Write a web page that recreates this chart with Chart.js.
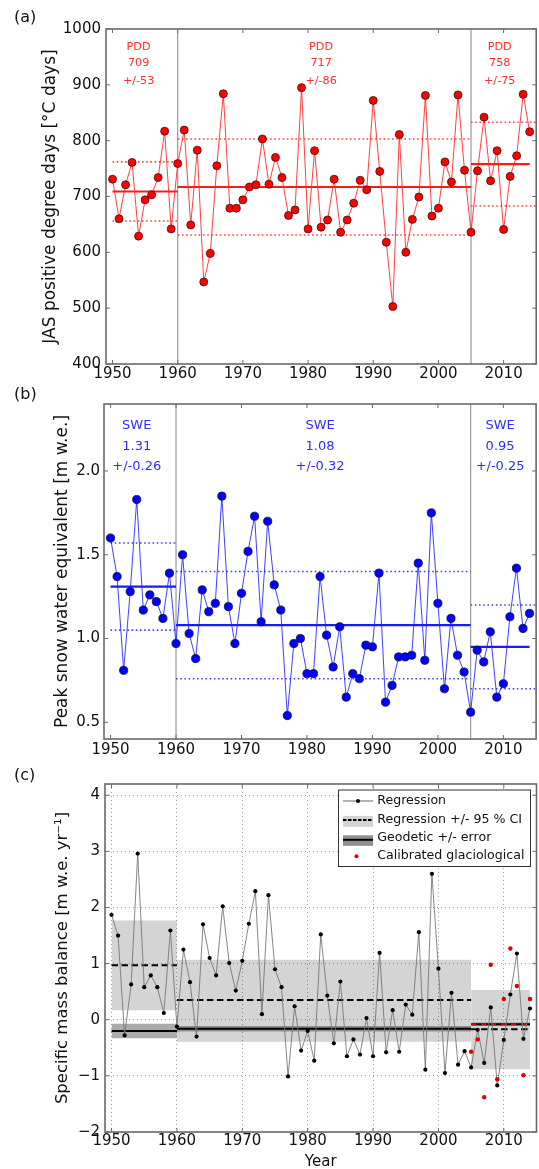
<!DOCTYPE html>
<html><head><meta charset="utf-8">
<script src="https://cdn.jsdelivr.net/npm/chart.js@4.4.0/dist/chart.umd.min.js"></script>
<style>
html,body{margin:0;padding:0;overflow:hidden;background:#fff;width:539px;height:1169px;position:relative;}
canvas{position:absolute;left:0;}
.plab{position:absolute;font-family:"DejaVu Sans",sans-serif;font-size:16px;line-height:16px;color:#111;}
</style></head><body>
<canvas id="ca" width="541" height="390" style="top:0px"></canvas>
<canvas id="cb" width="541" height="380" style="top:390px"></canvas>
<canvas id="cc" width="541" height="410" style="top:770px"></canvas>
<div class="plab" style="left:14px;top:9px">(a)</div>
<div class="plab" style="left:14px;top:386px">(b)</div>
<div class="plab" style="left:14px;top:767px">(c)</div>
<script>
// ---------------- data ----------------
const years = [1950,1951,1952,1953,1954,1955,1956,1957,1958,1959,
  1960,1961,1962,1963,1964,1965,1966,1967,1968,1969,
  1970,1971,1972,1973,1974,1975,1976,1977,1978,1979,
  1980,1981,1982,1983,1984,1985,1986,1987,1988,1989,
  1990,1991,1992,1993,1994,1995,1996,1997,1998,1999,
  2000,2001,2002,2003,2004,2005,2006,2007,2008,2009,
  2010,2011,2012,2013,2014];
const pdd = [731,660,721,761,629,694,703,734,817,642,
  759,819,649,783,547,598,755,884,679,679,
  694,717,721,803,722,770,734,666,676,895,
  642,782,645,658,731,636,658,688,729,712,
  872,745,618,503,811,600,659,699,881,665,
  679,762,726,882,747,636,746,842,728,782,
  641,736,773,883,816];
const swe = [1.60,1.37,0.81,1.28,1.83,1.17,1.26,1.22,1.12,1.39,
  0.97,1.50,1.03,0.88,1.29,1.16,1.21,1.85,1.19,0.97,
  1.27,1.52,1.73,1.10,1.70,1.32,1.17,0.54,0.97,1.00,
  0.79,0.79,1.37,1.02,0.83,1.07,0.65,0.79,0.76,0.96,
  0.95,1.39,0.62,0.72,0.89,0.89,0.90,1.45,0.87,1.75,
  1.21,0.70,1.12,0.90,0.80,0.56,0.93,0.86,1.04,0.65,
  0.73,1.13,1.42,1.06,1.15];
const smb = [1.87,1.50,-0.28,0.63,2.96,0.58,0.79,0.58,0.12,1.59,
  -0.12,1.25,0.67,-0.30,1.70,1.10,0.79,2.02,1.01,0.52,
  1.05,1.71,2.29,0.10,2.22,0.90,0.58,-1.01,0.24,-0.55,
  -0.20,-0.73,1.52,0.43,-0.42,0.68,-0.65,-0.35,-0.62,0.03,
  -0.65,1.19,-0.58,0.17,-0.57,0.27,0.09,1.56,-0.89,2.60,
  0.91,-0.95,0.48,-0.80,-0.56,-0.85,-0.18,-0.77,0.22,-1.17,
  -0.36,0.45,1.18,-0.34,0.20];
const calibYears = [2005,2006,2007,2008,2009,2010,2011,2012,2013,2014];
const calib = [-0.57,-0.35,-1.38,0.98,-1.06,0.37,1.27,0.60,-0.99,0.37];

const periodStart = [1950, 1960, 2005];
const periodEnd = [1960, 2005, 2014];
const periodEndStd = [1960, 2005, 2015];
const breakYears = [1960, 2005];
const pddMean = [709, 717, 758];
const pddStd = [53, 86, 75];
const sweMean = [1.31, 1.08, 0.95];
const sweStd = [0.26, 0.32, 0.25];
const regMean = [0.97, 0.35, -0.17];
const regCILow = [0.17, -0.39, -0.88];
const regCIHigh = [1.77, 1.07, 0.53];
const geoMean = [-0.20, -0.16, -0.08];
const geoErr = [0.13, 0.05, 0.03];
const calibMean = -0.08;

const xTicks = [1950,1960,1970,1980,1990,2000,2010];
const pddTicks = [400,500,600,700,800,900,1000];
const sweTicks = [0.5,1.0,1.5,2.0];
const smbTicks = [-2,-1,0,1,2,3,4];

const legendLabels = ['Regression','Regression +/- 95 % CI','Geodetic +/- error','Calibrated glaciological'];

// ---------------- helpers ----------------
const FONT = '"DejaVu Sans", sans-serif';
const TXT = '#111';
const pts = (xs, ys) => xs.map((x, i) => ({x: x, y: ys[i]}));

function seg(x0, x1, y, opt) {
  return Object.assign({data: [{x: x0, y: y}, {x: x1, y: y}], pointRadius: 0, borderWidth: 2, fill: false, tension: 0}, opt);
}
function vline(x, y0, y1, opt) {
  return Object.assign({data: [{x: x, y: y0}, {x: x, y: y1}], pointRadius: 0, borderWidth: 1, fill: false}, opt);
}
function band(x0, x1, lo, hi, color, order) {
  return {data: [{x: x0, y: hi}, {x: x1, y: hi}], pointRadius: 0, borderWidth: 0,
    borderColor: 'rgba(0,0,0,0)', backgroundColor: color, fill: {value: lo}, order: order};
}

function xAxis(height, pad, extra) {
  return Object.assign({
    type: 'linear', min: 1949, max: 2015,
    afterBuildTicks: s => { s.ticks = xTicks.map(v => ({value: v})); },
    afterFit: s => { s.height = height; },
    grid: {display: false, drawTicks: false},
    border: {display: false},
    ticks: {autoSkip: false, maxRotation: 0, padding: pad, color: TXT,
      font: {family: FONT, size: 15}, callback: v => String(v)}
  }, extra || {});
}
function yAxis(min, max, ticks, width, pad, fmt, title, tSize, tPad, extra) {
  return Object.assign({
    type: 'linear', min: min, max: max,
    afterBuildTicks: s => { s.ticks = ticks.map(v => ({value: v})); },
    afterFit: s => { s.width = width; },
    grid: {display: false, drawTicks: false},
    border: {display: false},
    ticks: {autoSkip: false, padding: pad, color: TXT, font: {family: FONT, size: 15}, callback: fmt},
    title: {display: true, text: title, color: TXT, font: {family: FONT, size: tSize}, padding: {top: tPad, bottom: 0}}
  }, extra || {});
}

function framePlugin() {
  return {
    id: 'frame',
    afterDatasetsDraw(chart) {
      const {ctx, chartArea: a, scales: {x, y}} = chart;
      ctx.save();
      ctx.strokeStyle = '#6a6a6a';
      ctx.lineWidth = 1.6;
      ctx.strokeRect(a.left, a.top, a.right - a.left, a.bottom - a.top);
      ctx.lineWidth = 1;
      ctx.beginPath();
      x.ticks.forEach(t => {
        const p = x.getPixelForValue(t.value);
        ctx.moveTo(p, a.bottom); ctx.lineTo(p, a.bottom - 4);
        ctx.moveTo(p, a.top); ctx.lineTo(p, a.top + 4);
      });
      y.ticks.forEach(t => {
        const p = y.getPixelForValue(t.value);
        ctx.moveTo(a.left, p); ctx.lineTo(a.left + 4, p);
        ctx.moveTo(a.right, p); ctx.lineTo(a.right - 4, p);
      });
      ctx.stroke();
      ctx.restore();
    }
  };
}

function annotPlugin(xs, ys, lines, color, size) {
  return {
    id: 'annot',
    afterDatasetsDraw(chart) {
      const {ctx, scales: {x, y}} = chart;
      ctx.save();
      ctx.fillStyle = color;
      ctx.font = size + 'px ' + FONT;
      ctx.textAlign = 'center';
      ctx.textBaseline = 'middle';
      lines.forEach((ls, i) => {
        ls.forEach((t, j) => ctx.fillText(t, x.getPixelForValue(xs[i]), y.getPixelForValue(ys[j])));
      });
      ctx.restore();
    }
  };
}

function legendPlugin() {
  return {
    id: 'mblegend',
    afterDatasetsDraw(chart) {
      const {ctx, chartArea: a} = chart;
      const w = 192, h = 76.5;
      const L = a.right - 6 - w, T = a.top + 6;
      ctx.save();
      ctx.fillStyle = '#fff';
      ctx.fillRect(L, T, w, h);
      ctx.strokeStyle = '#333';
      ctx.lineWidth = 1;
      ctx.strokeRect(L, T, w, h);
      const hx0 = L + 4.5, hx1 = L + 34.5, hc = (hx0 + hx1) / 2;
      const rowY = i => T + 11 + i * 18.4;
      // Regression
      let ry = rowY(0);
      ctx.strokeStyle = '#666'; ctx.lineWidth = 1;
      ctx.beginPath(); ctx.moveTo(hx0, ry); ctx.lineTo(hx1, ry); ctx.stroke();
      ctx.fillStyle = '#000'; ctx.beginPath(); ctx.arc(hc, ry, 2, 0, Math.PI * 2); ctx.fill();
      // CI
      ry = rowY(1);
      ctx.fillStyle = '#d3d3d3'; ctx.fillRect(hx0, ry - 3.5, hx1 - hx0, 11);
      ctx.strokeStyle = '#000'; ctx.lineWidth = 2; ctx.setLineDash([3.5, 1.5]);
      ctx.beginPath(); ctx.moveTo(hx0, ry + 0.5); ctx.lineTo(hx1, ry + 0.5); ctx.stroke();
      ctx.setLineDash([]);
      // Geodetic
      ry = rowY(2);
      ctx.fillStyle = '#8f8f8f'; ctx.fillRect(hx0, ry - 2.5, hx1 - hx0, 10.5);
      ctx.strokeStyle = '#000'; ctx.lineWidth = 2;
      ctx.beginPath(); ctx.moveTo(hx0, ry + 2); ctx.lineTo(hx1, ry + 2); ctx.stroke();
      // Calibrated
      ry = rowY(3);
      ctx.fillStyle = '#e00000'; ctx.beginPath(); ctx.arc(hc - 1.5, ry, 2, 0, Math.PI * 2); ctx.fill();
      // texts
      ctx.fillStyle = '#111';
      ctx.font = '12.6px ' + FONT;
      ctx.textAlign = 'left'; ctx.textBaseline = 'middle';
      legendLabels.forEach((t, i) => ctx.fillText(t, L + 38.7, rowY(i)));
      ctx.restore();
    }
  };
}

const common = {
  responsive: false, animation: false, devicePixelRatio: 1, events: [],
  plugins: {legend: {display: false}, tooltip: {enabled: false}}
};

// ---------------- panel (a) ----------------
(function () {
  const ds = [];
  ds.push({data: pts(years, pdd), borderColor: 'rgba(255,30,30,0.85)', borderWidth: 1,
    pointRadius: 4, pointBackgroundColor: '#ff0000', pointBorderColor: '#3a1010', pointBorderWidth: 0.8,
    tension: 0, fill: false, order: 0});
  for (let i = 0; i < 3; i++) {
    ds.push(seg(periodStart[i], periodEnd[i], pddMean[i], {borderColor: '#ff1a1a', borderWidth: 2.2, order: 2}));
    ds.push(seg(periodStart[i], periodEndStd[i], pddMean[i] + pddStd[i], {borderColor: '#ff4040', borderWidth: 1.6, borderDash: [1.6, 2.6], order: 3}));
    ds.push(seg(periodStart[i], periodEndStd[i], pddMean[i] - pddStd[i], {borderColor: '#ff4040', borderWidth: 1.6, borderDash: [1.6, 2.6], order: 3}));
  }
  breakYears.forEach(b => ds.push(vline(b, 400, 1000, {borderColor: '#999', borderWidth: 1.2, order: 5})));
  new Chart(document.getElementById('ca'), {
    type: 'line',
    data: {datasets: ds},
    options: Object.assign({}, common, {
      layout: {padding: {top: 29, right: 1, bottom: 0, left: 0}},
      scales: {
        x: xAxis(26, 1),
        y: yAxis(400, 1000, pddTicks, 106, 5, v => String(v), 'JAS positive degree days [°C days]', 17, 40.8)
      }
    }),
    plugins: [framePlugin(), annotPlugin([1954, 1982, 2009.4], [968, 939, 907],
      pddMean.map((m, i) => ['PDD', String(m), '+/-' + pddStd[i]]), '#ff2d2d', 11.2)]
  });
})();

// ---------------- panel (b) ----------------
(function () {
  const ds = [];
  ds.push({data: pts(years, swe), borderColor: 'rgba(30,30,255,0.85)', borderWidth: 1,
    pointRadius: 4.1, pointBackgroundColor: '#0000ff', pointBorderColor: '#10103a', pointBorderWidth: 0.8,
    tension: 0, fill: false, order: 0});
  for (let i = 0; i < 3; i++) {
    ds.push(seg(periodStart[i], periodEnd[i], sweMean[i], {borderColor: '#1a1aff', borderWidth: 2.2, order: 2}));
    ds.push(seg(periodStart[i], periodEndStd[i], sweMean[i] + sweStd[i], {borderColor: '#4040ff', borderWidth: 1.6, borderDash: [1.6, 2.6], order: 3}));
    ds.push(seg(periodStart[i], periodEndStd[i], sweMean[i] - sweStd[i], {borderColor: '#4040ff', borderWidth: 1.6, borderDash: [1.6, 2.6], order: 3}));
  }
  breakYears.forEach(b => ds.push(vline(b, 0.4, 2.4, {borderColor: '#999', borderWidth: 1.2, order: 5})));
  new Chart(document.getElementById('cb'), {
    type: 'line',
    data: {datasets: ds},
    options: Object.assign({}, common, {
      layout: {padding: {top: 14, right: 3, bottom: 0, left: 0}},
      scales: {
        x: xAxis(31, 2),
        y: yAxis(0.4, 2.4, sweTicks, 104, 4, v => v.toFixed(1), 'Peak snow water equivalent [m w.e.]', 17, 52.2)
      }
    }),
    plugins: [framePlugin(), annotPlugin([1954, 1982, 2009.5], [2.27, 2.145, 2.025],
      sweMean.map((m, i) => ['SWE', m.toFixed(2), '+/-' + sweStd[i].toFixed(2)]), '#2d2dff', 13)]
  });
})();

// ---------------- panel (c) ----------------
(function () {
  const ds = [];
  ds.push({data: pts(calibYears, calib), showLine: false, pointRadius: 2.2, pointBackgroundColor: '#e00000',
    pointBorderWidth: 0, pointBorderColor: '#e00000', order: 0});
  ds.push({data: pts(years, smb), borderColor: '#777', borderWidth: 0.9, pointRadius: 2.1,
    pointBackgroundColor: '#000', pointBorderWidth: 0, pointBorderColor: '#000', tension: 0, fill: false, order: 1});
  ds.push(seg(periodStart[2], periodEnd[2], calibMean, {borderColor: '#e00000', borderWidth: 2, borderDash: [5, 5], order: 2}));
  for (let i = 0; i < 3; i++) {
    ds.push(seg(periodStart[i], periodEnd[i], regMean[i], {borderColor: '#000', borderWidth: 2, borderDash: [6.5, 3.5], order: 3}));
    ds.push(seg(periodStart[i], periodEnd[i], geoMean[i], {borderColor: '#000', borderWidth: 2, order: 4}));
    ds.push(band(periodStart[i], periodEnd[i], geoMean[i] - geoErr[i], geoMean[i] + geoErr[i], 'rgba(0,0,0,0.33)', 5));
    ds.push(band(periodStart[i], periodEnd[i], regCILow[i], regCIHigh[i], 'rgba(0,0,0,0.17)', 6));
  }
  const gridOpts = {grid: {display: true, drawTicks: false, color: '#9a9a9a', lineWidth: 0.9},
    border: {display: false, dash: [1, 3]}};
  new Chart(document.getElementById('cc'), {
    type: 'line',
    data: {datasets: ds},
    options: Object.assign({}, common, {
      layout: {padding: {top: 14, right: 4.5, bottom: 0, left: 0}},
      scales: {
        x: xAxis(48, 0, Object.assign({title: {display: true, text: 'Year', color: TXT,
          font: {family: FONT, size: 15}, padding: {top: 0, bottom: 9.3}}}, gridOpts)),
        y: yAxis(-2, 4.2, smbTicks, 105, 5, v => (v < 0 ? '\u2212' + Math.abs(v) : String(v)),
          'Specific mass balance [m w.e. yr\u207B\u00B9]', 16.5, 52.5, gridOpts)
      }
    }),
    plugins: [framePlugin(), legendPlugin()]
  });
})();
</script>
</body></html>
